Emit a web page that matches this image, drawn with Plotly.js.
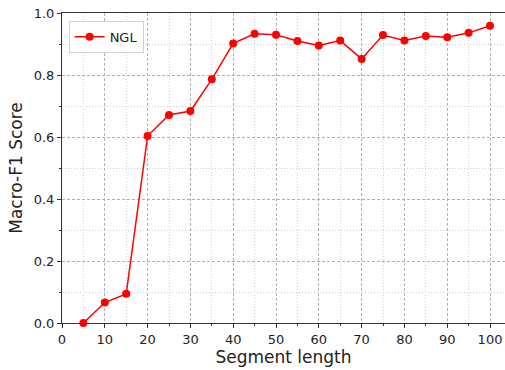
<!DOCTYPE html>
<html><head><meta charset="utf-8">
<script src="https://cdn.plot.ly/plotly-3.0.1.min.js"></script>
<style>html,body{margin:0;padding:0;background:#fff}#c{width:505px;height:370px}</style>
</head><body><div id="c"></div>
<script>
const segmentLength = [5,10,15,20,25,30,35,40,45,50,55,60,65,70,75,80,85,90,95,100];
const nglScore = [0.0,0.066,0.094,0.603,0.671,0.684,0.786,0.902,0.933,0.930,0.910,0.895,0.911,0.852,0.929,0.911,0.926,0.922,0.936,0.959];
const seriesName = 'NGL';
const xTitle = 'Segment length';
const yTitle = 'Macro-F1 Score';

const fam = 'DejaVu Sans, sans-serif';
Plotly.newPlot('c', [{
  x: segmentLength, y: nglScore, name: seriesName, type:'scatter', mode:'lines+markers',
  line:{color:'#ff0000', width:1.5}, marker:{color:'#ff0000', size:8}, cliponaxis:false
}], {
  width:505, height:370,
  margin:{l:62, r:0, t:13, b:47},
  paper_bgcolor:'#fff', plot_bgcolor:'#fff',
  font: {family:fam, size:13, color:'#222'},
  showlegend:true,
  legend:{x:0.015, y:0.975, xanchor:'left', yanchor:'top', bgcolor:'#fff', bordercolor:'#d0d0d0', borderwidth:1, font:{family:fam, size:13, color:'#222'}},
  xaxis:{range:[0,103.5], tick0:0, dtick:10, ticks:'outside', ticklen:4, tickcolor:'#333',
    tickfont:{family:fam, size:13, color:'#222'},
    showline:true, linecolor:'#333', linewidth:1, mirror:true,
    showgrid:true, gridcolor:'#b0b0b0', griddash:'3px,2px', gridwidth:1, zeroline:false,
    minor:{dtick:5, tick0:0, ticks:'outside', ticklen:2, tickcolor:'#333', showgrid:true, gridcolor:'#d0d0d0', griddash:'1px,2px', gridwidth:1},
    title:{text:xTitle, font:{family:fam, size:17, color:'#222'}, standoff:2}},
  yaxis:{range:[0,1], tick0:0, dtick:0.2, tickformat:'.1f', ticks:'outside', ticklen:4, tickcolor:'#333',
    tickfont:{family:fam, size:13, color:'#222'},
    showline:true, linecolor:'#333', linewidth:1,
    showgrid:true, gridcolor:'#b0b0b0', griddash:'3px,2px', gridwidth:1, zeroline:false,
    minor:{dtick:0.1, tick0:0, ticks:'outside', ticklen:2, tickcolor:'#333', showgrid:true, gridcolor:'#d0d0d0', griddash:'1px,2px', gridwidth:1},
    title:{text:yTitle, font:{family:fam, size:17, color:'#222'}, standoff:6}}
}, {displayModeBar:false, staticPlot:true});
</script></body></html>
